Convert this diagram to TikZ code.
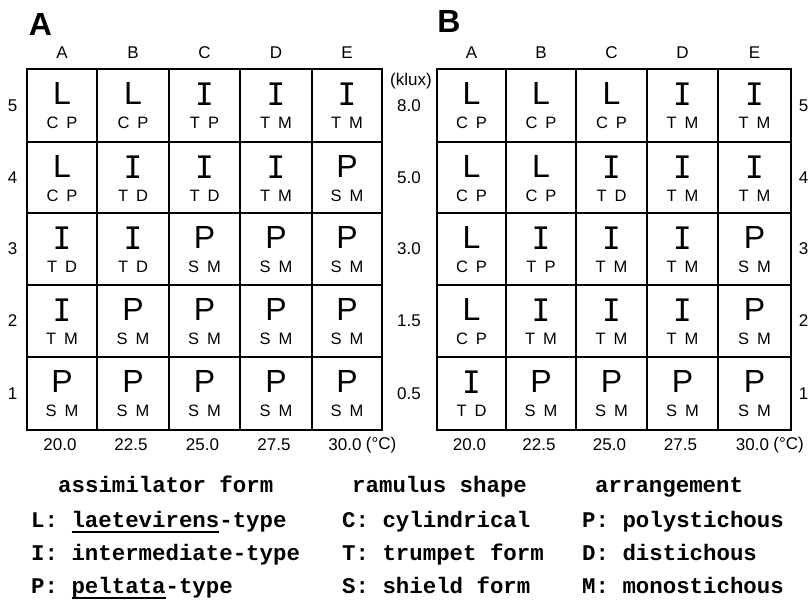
\documentclass[tikz,border=0pt]{standalone}
\usepackage{fontspec}
\setmainfont{Liberation Sans}
\newfontfamily\monofont{DejaVu Sans Mono}
\newfontfamily\legendfont{Liberation Mono}

% large form letters: L and P plain sans, I with bars
\newcommand\bigfontL{\fontsize{32}{32}\selectfont}
\newcommand\bigfontP{\fontsize{32}{32}\selectfont}
\newcommand\bigfontI{\monofont\fontsize{31}{31}\selectfont}
\newcommand\formletter[1]{{\csname bigfont#1\endcsname #1}}
% underline set a little below the baseline
\newcommand\uline[1]{\setbox0\hbox{#1}\rlap{\rule[-6pt]{\wd0}{1.6pt}}\box0}

% one 5x5 panel: #1 prefix, #2 column edges, #3 rows (number/top/bottom/cells)
\newcommand\drawpanel[3]{%
  \foreach \rowno/\ytop/\ybot/\cells in {#3} {
    \foreach \F/\Sa/\Sb [count=\i] in \cells {
      \pgfmathsetmacro\xl{#2[\i-1]}
      \pgfmathsetmacro\xr{#2[\i]}
      \pgfmathsetmacro\cw{\xr-\xl}
      \pgfmathsetmacro\ch{\ybot-\ytop}
      \node[cell, minimum width=\cw pt, minimum height=\ch pt]
        (#1-\i-\rowno) at ({(\xl+\xr)/2},{(\ytop+\ybot)/2}) {};
      \node[form] (#1-\i-\rowno-f) at ([yshift=-25.5pt]#1-\i-\rowno.north) {\formletter{\F}};
      \node[code] (#1-\i-\rowno-c) at ([yshift=-55pt]#1-\i-\rowno.north) {\Sa\hspace{8pt}\Sb};
    }
  }%
  \foreach \c [count=\i] in {A,B,C,D,E} {
    \pgfmathsetmacro\xl{#2[\i-1]}
    \pgfmathsetmacro\xr{#2[\i]}
    \pgfmathsetmacro\xc{(\xl+\xr)/2}
    \node[axis] (#1-head-\i) at (\xc,53) {\c};
  }%
  \foreach \v [count=\i] in {20.0,22.5,25.0,27.5,30.0} {
    \pgfmathsetmacro\xl{#2[\i-1]}
    \pgfmathsetmacro\xr{#2[\i]}
    \pgfmathsetmacro\xc{(\xl+\xr)/2-2}
    \node[axis] (#1-temp-\i) at (\xc,445) {\v};
  }%
  \node[axis, anchor=west] (#1-unit) at ([xshift=4pt]#1-temp-5.east) {(°C)};
}

\begin{document}
\begin{tikzpicture}[x=1pt,y=-1pt,
  cell/.style={draw, line width=1.6pt, inner sep=0pt},
  form/.style={inner sep=0pt},
  code/.style={inner sep=0pt, font=\fontsize{16.5}{16.5}\selectfont},
  axis/.style={inner sep=0pt, font=\fontsize{17}{17}\selectfont},
  panellabel/.style={inner sep=0pt, font=\bfseries\fontsize{32}{32}\selectfont},
  legend/.style={inner sep=0pt, anchor=base west,
    font=\legendfont\bfseries\fontsize{22.4}{22.4}\selectfont}]
\useasboundingbox (0,0) rectangle (809,600);

\def\colsA{{27,97,169,240,312,382}}
\def\colsB{{437,506,576,647,718,791}}

% panel A
\node[panellabel] (labelA) at (40.5,24.5) {A};
\drawpanel{A}{\colsA}{%
  5/69/142/{L/C/P,L/C/P,I/T/P,I/T/M,I/T/M},
  4/142/213/{L/C/P,I/T/D,I/T/D,I/T/M,P/S/M},
  3/213/285/{I/T/D,I/T/D,P/S/M,P/S/M,P/S/M},
  2/285/357/{I/T/M,P/S/M,P/S/M,P/S/M,P/S/M},
  1/357/430/{P/S/M,P/S/M,P/S/M,P/S/M,P/S/M}}

% panel B
\node[panellabel] (labelB) at (449,21.5) {B};
\drawpanel{B}{\colsB}{%
  5/69/142/{L/C/P,L/C/P,L/C/P,I/T/M,I/T/M},
  4/142/213/{L/C/P,L/C/P,I/T/D,I/T/M,I/T/M},
  3/213/285/{L/C/P,I/T/P,I/T/M,I/T/M,P/S/M},
  2/285/357/{L/C/P,I/T/M,I/T/M,I/T/M,P/S/M},
  1/357/430/{I/T/D,P/S/M,P/S/M,P/S/M,P/S/M}}

% row numbers and light intensities
\foreach \r/\y/\lux in {5/105.5/8.0, 4/177.5/5.0, 3/249/3.0, 2/321/1.5, 1/393.5/0.5} {
  \node[axis] (rowA-\r) at (12.5,\y) {\r};
  \node[axis, anchor=east] (rowB-\r) at (808.5,\y) {\r};
  \node[axis] (lux-\r) at (409,\y) {\lux};
}
\node[axis] (luxunit) at (411,81) {(klux)};

% legend
\node[legend] (h1) at (58,492) {assimilator form};
\node[legend] (h2) at (352,492) {ramulus shape};
\node[legend] (h3) at (595,492) {arrangement};
\node[legend] (l1) at (31,527) {L: \uline{laetevirens}-type};
\node[legend] (l2) at (31,560) {I: intermediate-type};
\node[legend] (l3) at (31,593) {P: \uline{peltata}-type};
\node[legend] (r1) at (342,527) {C: cylindrical};
\node[legend] (r2) at (342,560) {T: trumpet form};
\node[legend] (r3) at (342,593) {S: shield form};
\node[legend] (a1) at (582,527) {P: polystichous};
\node[legend] (a2) at (582,560) {D: distichous};
\node[legend] (a3) at (582,593) {M: monostichous};
\end{tikzpicture}
\end{document}
